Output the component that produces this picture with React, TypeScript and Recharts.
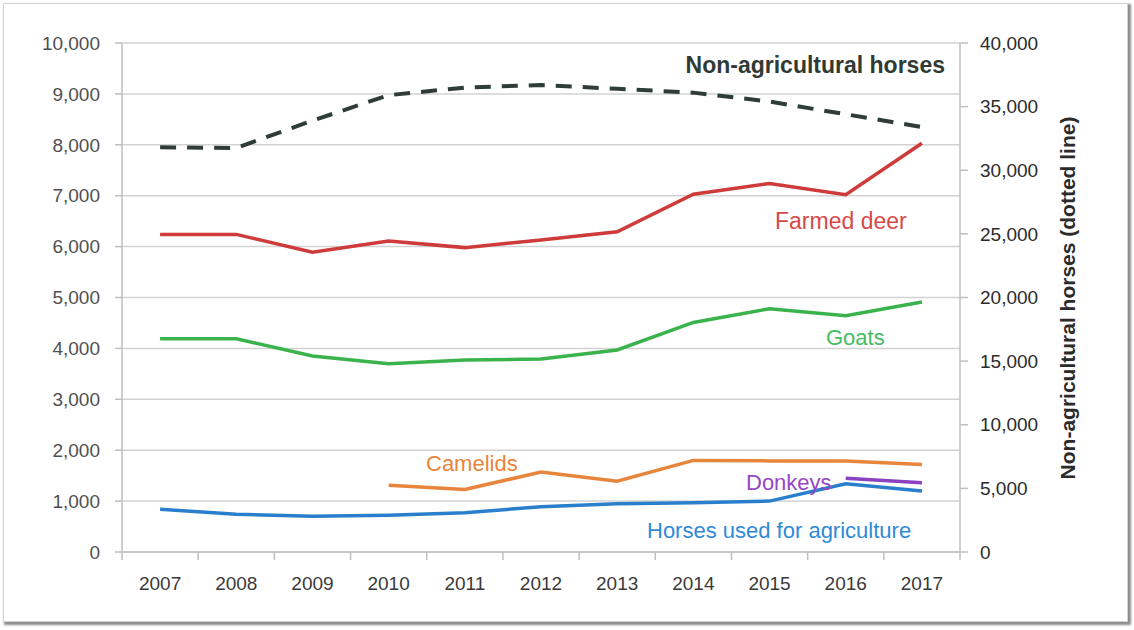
import { CartesianGrid, Line, LineChart, XAxis, YAxis } from "recharts"

const years = ["2007", "2008", "2009", "2010", "2011", "2012", "2013", "2014", "2015", "2016", "2017"]

const farmedDeer = [6240, 6240, 5890, 6110, 5980, 6130, 6290, 7030, 7240, 7020, 8030]
const goats = [4190, 4190, 3850, 3700, 3770, 3790, 3970, 4510, 4780, 4640, 4910]
const camelids = [null, null, null, 1310, 1230, 1570, 1390, 1800, 1790, 1790, 1720]
const donkeys = [null, null, null, null, null, null, null, null, null, 1450, 1360]
const agriHorses = [840, 740, 700, 720, 770, 890, 950, 970, 1000, 1340, 1200]
const nonAgriHorses = [31800, 31750, 33900, 35900, 36500, 36700, 36400, 36100, 35400, 34400, 33400]

const leftTicks = [0, 1000, 2000, 3000, 4000, 5000, 6000, 7000, 8000, 9000, 10000]
const rightTicks = [0, 5000, 10000, 15000, 20000, 25000, 30000, 35000, 40000]

const data = years.map((year, i) => ({
  year,
  farmedDeer: farmedDeer[i],
  goats: goats[i],
  camelids: camelids[i],
  donkeys: donkeys[i],
  agriHorses: agriHorses[i],
  nonAgriHorses: nonAgriHorses[i],
}))

const W = 1134
const H = 630
const LEFT_W = 122
const RIGHT_W = 174
const TOP = 43
const X_AXIS_H = 78
const PLOT_W = W - LEFT_W - RIGHT_W
const PLOT_BOTTOM = H - X_AXIS_H
const STEP = PLOT_W / years.length

const FONT = "'Liberation Sans', Arial, sans-serif"
const AXIS = "#bfbfbf"
const fmt = (v: number) => v.toLocaleString("en-US")

// year label centred in its slot, tick marks on the slot edges
const YearTick = (props: any) => {
  const { x, payload, index } = props
  const half = STEP / 2
  return (
    <g>
      <line x1={x - half} x2={x - half} y1={PLOT_BOTTOM} y2={PLOT_BOTTOM + 8} stroke={AXIS} strokeWidth={1.5} />
      {index === years.length - 1 && (
        <line x1={x + half} x2={x + half} y1={PLOT_BOTTOM} y2={PLOT_BOTTOM + 8} stroke={AXIS} strokeWidth={1.5} />
      )}
      <text x={x} y={PLOT_BOTTOM + 38} textAnchor="middle" fill="#3a3a3a" fontSize={19} fontFamily={FONT}>
        {payload.value}
      </text>
    </g>
  )
}

const labelStyle = { fontFamily: FONT, fontSize: 22 }

export default function App() {
  return (
    <div style={{ position: "absolute", left: 0, top: 0, width: W, height: H, background: "#fff" }}>
      <div
        style={{
          position: "absolute",
          left: 3,
          top: 3,
          width: 1123,
          height: 617,
          border: "1px solid #d4d4d4",
          boxShadow: "2px 2px 2px 1px #8c8c8c",
        }}
      />
      <div style={{ position: "absolute", left: 0, top: 0 }}>
        <LineChart
          width={W}
          height={H}
          data={data}
          margin={{ top: TOP, right: 0, bottom: 0, left: 0 }}
          style={{ fontFamily: FONT }}
        >
          <CartesianGrid yAxisId="left" vertical={false} stroke="#d2d2d2" strokeWidth={1.5} />
          <XAxis
            dataKey="year"
            height={X_AXIS_H}
            padding={{ left: STEP / 2, right: STEP / 2 }}
            tickLine={false}
            axisLine={{ stroke: AXIS, strokeWidth: 1.5 }}
            tick={<YearTick />}
            interval={0}
          />
          <YAxis
            yAxisId="left"
            width={LEFT_W}
            domain={[0, 10000]}
            ticks={leftTicks}
            tickFormatter={fmt}
            tickSize={7}
            tickMargin={15}
            tickLine={{ stroke: AXIS, strokeWidth: 1.5 }}
            axisLine={{ stroke: AXIS, strokeWidth: 1.5 }}
            tick={{ fill: "#505050", fontSize: 19, fontFamily: FONT }}
            interval={0}
          />
          <YAxis
            yAxisId="right"
            orientation="right"
            width={RIGHT_W}
            domain={[0, 40000]}
            ticks={rightTicks}
            tickFormatter={fmt}
            tickSize={8}
            tickMargin={12}
            tickLine={{ stroke: AXIS, strokeWidth: 1.5 }}
            axisLine={{ stroke: AXIS, strokeWidth: 1.5 }}
            tick={{ fill: "#2b2b2b", fontSize: 19, fontFamily: FONT, textAnchor: "start" }}
            interval={0}
          />
          <Line
            yAxisId="right"
            dataKey="nonAgriHorses"
            stroke="#2e3d36"
            strokeWidth={4}
            strokeDasharray="16 11"
            dot={false}
            isAnimationActive={false}
          />
          <Line yAxisId="left" dataKey="farmedDeer" stroke="#cf3a3a" strokeWidth={3.5} dot={false} isAnimationActive={false} />
          <Line yAxisId="left" dataKey="goats" stroke="#3bb34c" strokeWidth={3.5} dot={false} isAnimationActive={false} />
          <Line yAxisId="left" dataKey="camelids" stroke="#e8853c" strokeWidth={3.5} dot={false} isAnimationActive={false} />
          <Line yAxisId="left" dataKey="donkeys" stroke="#8a42c2" strokeWidth={3.5} dot={false} isAnimationActive={false} />
          <Line yAxisId="left" dataKey="agriHorses" stroke="#2a7fcc" strokeWidth={3.5} dot={false} isAnimationActive={false} />
        </LineChart>
      </div>
      <svg width={W} height={H} style={{ position: "absolute", left: 0, top: 0, pointerEvents: "none" }}>
        <text x={945} y={73} textAnchor="end" fill="#2f3a35" fontWeight="bold" {...labelStyle} fontSize={23}>
          Non-agricultural horses
        </text>
        <text x={775} y={229} fill="#d64b48" {...labelStyle} fontSize={23}>
          Farmed deer
        </text>
        <text x={826} y={345} fill="#45bd62" {...labelStyle}>
          Goats
        </text>
        <text x={426} y={471} fill="#e8853c" {...labelStyle}>
          Camelids
        </text>
        <text x={746} y={490} fill="#9448c4" {...labelStyle}>
          Donkeys
        </text>
        <text x={647} y={538} fill="#2f8ad6" {...labelStyle}>
          Horses used for agriculture
        </text>
        <text
          transform="translate(1075, 298) rotate(-90)"
          textAnchor="middle"
          fill="#2b2b2b"
          fontWeight="bold"
          fontFamily={FONT}
          fontSize={21}
        >
          Non-agricultural horses (dotted line)
        </text>
      </svg>
    </div>
  )
}
